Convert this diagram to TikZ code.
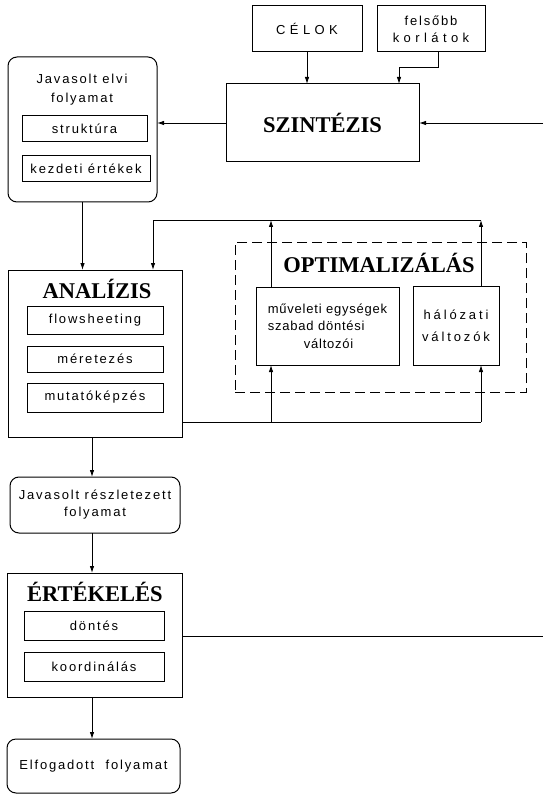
\documentclass[tikz,border=0pt]{standalone}
\usepackage{fontspec}
\setmainfont{Liberation Serif}
\newfontfamily\lab[LetterSpace=14]{Liberation Sans}
\newfontfamily\labtight[LetterSpace=6]{Liberation Sans}
\newfontfamily\labmid[LetterSpace=22]{Liberation Sans}
\newfontfamily\labwide[LetterSpace=34]{Liberation Sans}
\usetikzlibrary{arrows.meta}

\tikzset{
  frame/.style={draw, line width=1pt, inner sep=0pt, outer sep=0pt},
  rbox/.style={frame, rounded corners=9pt},
  ttl/.style={font=\fontsize{22.5}{26}\selectfont\bfseries, inner sep=0pt},
  lbl/.style={font=\fontsize{13}{18}\selectfont\lab, align=center, inner sep=0pt},
  conn/.style={line width=0.9pt},
  arr/.style={conn, -{Latex[length=7pt,width=4.5pt]}},
  optframe/.style={draw, line width=1pt, dash pattern=on 10pt off 5pt, inner sep=0pt, outer sep=0pt},
}

\begin{document}
\begin{tikzpicture}[x=1pt,y=-1pt]
\useasboundingbox (0,0) rectangle (543,794);

% goals and upper limits
\node[frame, lbl, font=\fontsize{13}{18}\selectfont\labwide,
      minimum width=110, minimum height=46] (celok) at (307,29) {CÉLOK};
\node[frame, lbl, font=\fontsize{13}{17}\selectfont\lab,
      minimum width=108, minimum height=46] (felso) at (431,29) {felsőbb\\{\labwide korlátok}};

% synthesis
\node[frame, ttl, minimum width=193, minimum height=78] (szint) at (322.5,123) {SZINTÉZIS};

% proposed conceptual process
\node[rbox, minimum width=149, minimum height=145] (javel) at (82.5,129.5) {};
\node[lbl, font=\fontsize{13}{19}\selectfont\lab] (javelT) at (82,89.5) {Javasolt elvi\\folyamat};
\node[frame, lbl, minimum width=125, minimum height=26] (strukt) at (84.5,129) {struktúra};
\node[frame, lbl, minimum width=128, minimum height=26] (kezd) at (86,169) {kezdeti értékek};

% analysis
\node[frame, minimum width=174, minimum height=167] (anal) at (95,353.5) {};
\node[ttl] (analT) at (97,289) {ANALÍZIS};
\node[frame, lbl, minimum width=136, minimum height=28] (flow) at (95,320) {flowsheeting};
\node[frame, lbl, minimum width=136, minimum height=26] (meret) at (95,359) {méretezés};
\node[frame, lbl, minimum width=136, minimum height=29] (mutato) at (95,397.5) {mutatóképzés};

% optimisation
\node[optframe, minimum width=291, minimum height=150] (opt) at (380.5,317) {};
\node[ttl] (optT) at (379,263) {OPTIMALIZÁLÁS};
\node[frame, lbl, align=left, font=\fontsize{13}{17.5}\selectfont\labtight,
      minimum width=143, minimum height=78] (muv) at (327.5,326)
      {műveleti egységek\\szabad döntési\\\hspace*{36pt}változói};
\node[frame, lbl, font=\fontsize{13}{22}\selectfont\labmid,
      minimum width=86, minimum height=79] (hal) at (456,325.5) {hálózati\\változók};

% proposed detailed process
\node[rbox, lbl, font=\fontsize{13}{17}\selectfont\lab,
      minimum width=170, minimum height=56] (jres) at (95,505) {Javasolt részletezett\\folyamat};

% evaluation
\node[frame, minimum width=175, minimum height=124] (ert) at (94.5,635) {};
\node[ttl] (ertT) at (95,592) {ÉRTÉKELÉS};
\node[frame, lbl, minimum width=140, minimum height=29] (dontes) at (94,625.5) {döntés};
\node[frame, lbl, minimum width=140, minimum height=29] (koord) at (94,666.5) {koordinálás};

% accepted process
\node[rbox, lbl, minimum width=173, minimum height=54] (elf) at (93.5,766) {Elfogadott\hspace{6pt} folyamat};

% free ends and corners
\coordinate (rin) at (543,123);
\coordinate (rout) at (543,636);
\coordinate (topL) at (153,220);
\coordinate (botR) at (481,422);

% connectors
\draw[arr] (celok.south) -- (celok.south |- szint.north);
\draw[arr] ([xshift=7pt]felso.south) -- ++(0,15) -| ([xshift=76.5pt]szint.north);
\draw[arr] (rin) -- (szint.east);
\draw[arr] (szint.west) -- (javel.east |- szint.west);
\draw[arr] (javel.south) -- (javel.south |- anal.north);

\draw[arr] ([xshift=-56.5pt]muv.north) -- ([xshift=-56.5pt]muv.north |- topL);
\draw[arr] ([xshift=25pt]hal.north) -- ([xshift=25pt]hal.north |- topL);
\draw[arr] ([xshift=25pt]hal.north |- topL) -- (topL) -- (topL |- anal.north);

\draw[conn] (anal.east |- botR) -- (botR);
\draw[arr] (botR) -- ([xshift=25pt]hal.south);
\draw[arr] ([xshift=-56.5pt]muv.south |- botR) -- ([xshift=-56.5pt]muv.south);

\draw[arr] ([xshift=-3pt]anal.south) -- ([xshift=-3pt]anal.south |- jres.north);
\draw[arr] ([xshift=-3pt]jres.south) -- ([xshift=-3pt]jres.south |- ert.north);
\draw[arr] ([xshift=-2.5pt]ert.south) -- ([xshift=-2.5pt]ert.south |- elf.north);
\draw[conn] (ert.east |- rout) -- (rout);
\end{tikzpicture}
\end{document}
